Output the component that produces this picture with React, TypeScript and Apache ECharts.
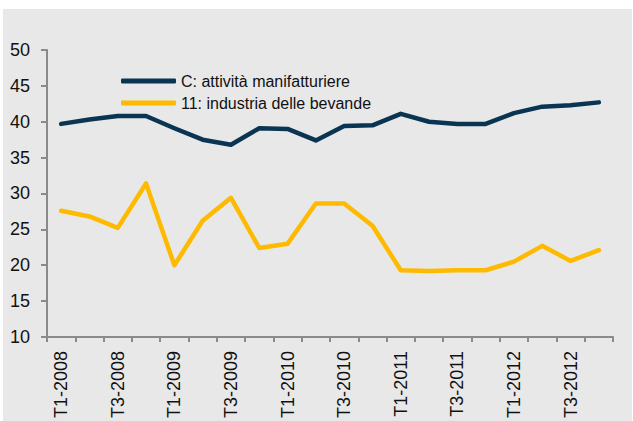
import React, { useEffect, useRef } from "react";
import * as echarts from "echarts";

const categories = [
  "T1-2008", "T2-2008", "T3-2008", "T4-2008",
  "T1-2009", "T2-2009", "T3-2009", "T4-2009",
  "T1-2010", "T2-2010", "T3-2010", "T4-2010",
  "T1-2011", "T2-2011", "T3-2011", "T4-2011",
  "T1-2012", "T2-2012", "T3-2012", "T4-2012",
];

const manifatturiere = [
  39.7, 40.3, 40.8, 40.8, 39.1, 37.5, 36.8, 39.1, 39.0, 37.4,
  39.4, 39.5, 41.1, 40.0, 39.7, 39.7, 41.2, 42.1, 42.3, 42.7,
];

const bevande = [
  27.6, 26.8, 25.2, 31.4, 20.0, 26.2, 29.4, 22.4, 23.0, 28.6,
  28.6, 25.5, 19.3, 19.2, 19.3, 19.3, 20.5, 22.7, 20.6, 22.1,
];

const seriesNames = ["C: attività manifatturiere", "11: industria delle bevande"];

export default function App() {
  const ref = useRef<HTMLDivElement>(null);
  useEffect(() => {
    if (!ref.current) return;
    const chart = echarts.init(ref.current, undefined, { renderer: "svg" });
    const font = "'Liberation Sans', Arial, Helvetica, sans-serif";
    chart.setOption({
      animation: false,
      backgroundColor: "#ffffff",
      textStyle: { fontFamily: font },
      graphic: [
        {
          type: "rect",
          z: -10,
          silent: true,
          shape: { x: 3, y: 9, width: 629, height: 420 },
          style: { fill: "#e8e8e8" },
        },
      ],
      grid: { left: 47, right: 20, top: 50, bottom: 83, containLabel: false },
      legend: {
        orient: "vertical",
        left: 116,
        top: 67,
        itemWidth: 55,
        itemHeight: 5,
        itemGap: 4,
        icon: "roundRect",
        textStyle: { fontSize: 16, color: "#111", fontFamily: font, lineHeight: 18 },
        data: seriesNames,
      },
      xAxis: {
        type: "category",
        data: categories,
        boundaryGap: true,
        axisLine: { lineStyle: { color: "#8a8a8a", width: 2 } },
        axisTick: { show: true, interval: 0, length: 5, lineStyle: { color: "#8a8a8a", width: 2 } },
        axisLabel: {
          interval: 1,
          rotate: 90,
          margin: 14,
          fontSize: 18,
          color: "#111",
          fontFamily: font,
        },
        splitLine: { show: false },
      },
      yAxis: {
        type: "value",
        min: 10,
        max: 50,
        interval: 5,
        axisLine: { show: true, lineStyle: { color: "#8a8a8a", width: 2 } },
        axisTick: { show: true, length: 6, lineStyle: { color: "#8a8a8a", width: 2 } },
        axisLabel: { margin: 17, fontSize: 18, color: "#111", fontFamily: font },
        splitLine: { show: false },
      },
      series: [
        {
          name: seriesNames[0],
          type: "line",
          data: manifatturiere,
          symbol: "none",
          color: "#0a3552",
          lineStyle: { width: 4.5, color: "#0a3552", cap: "round", join: "round" },
        },
        {
          name: seriesNames[1],
          type: "line",
          data: bevande,
          symbol: "none",
          color: "#fdba00",
          lineStyle: { width: 4.5, color: "#fdba00", cap: "round", join: "round" },
        },
      ],
    });
    return () => chart.dispose();
  }, []);
  return (
    <div
      ref={ref}
      style={{ position: "fixed", left: 0, top: 0, width: 633, height: 421 }}
    />
  );
}
